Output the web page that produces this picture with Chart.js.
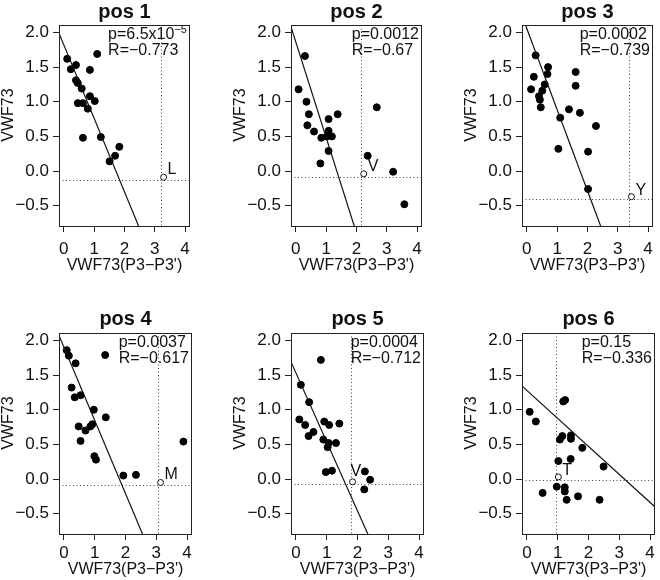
<!DOCTYPE html>
<html>
<head>
<meta charset="utf-8">
<script src="https://cdn.jsdelivr.net/npm/chart.js@4.4.1/dist/chart.umd.min.js"></script>
<style>
  html, body { margin: 0; padding: 0; background: #fff; width: 660px; height: 580px; overflow: hidden; }
  .panel { position: absolute; width: 197px; height: 290px; }
  canvas { display: block; }
</style>
</head>
<body>
<div class="panel" style="left:0px;top:0px"><canvas id="c0" width="197" height="290"></canvas></div>
<div class="panel" style="left:232px;top:0px"><canvas id="c1" width="197" height="290"></canvas></div>
<div class="panel" style="left:463px;top:0px"><canvas id="c2" width="197" height="290"></canvas></div>
<div class="panel" style="left:0px;top:308px"><canvas id="c3" width="197" height="290"></canvas></div>
<div class="panel" style="left:232px;top:308px"><canvas id="c4" width="197" height="290"></canvas></div>
<div class="panel" style="left:463px;top:308px"><canvas id="c5" width="197" height="290"></canvas></div>
<script>
// fonte tipo Arial, tudo a preto
Chart.defaults.font.family = "'Liberation Sans', Arial, sans-serif";
Chart.defaults.color = "#111";

// EIXOS
const xTicks = [0, 1, 2, 3, 4];
const yTicks = [-0.5, 0, 0.5, 1, 1.5, 2];
const xMin = -0.16, xMax = 4.16;
const yMin = -0.808, yMax = 2.108;

// TEXTOS
const titles = ["pos 1", "pos 2", "pos 3", "pos 4", "pos 5", "pos 6"];
const pTexts = ["p=6.5x10", "p=0.0012", "p=0.0002", "p=0.0037", "p=0.0004", "p=0.15"];
const pExps = ["−5", "", "", "", "", ""];
const rTexts = ["R=−0.773", "R=−0.67", "R=−0.739", "R=−0.617", "R=−0.712", "R=−0.336"];

// DADOS (pontos pretos)
const pos1X = [0.11, 1.10, 0.40, 0.23, 0.86, 0.40, 0.46, 0.59, 0.86, 1.02, 0.46, 0.63, 0.79, 0.63, 1.22, 1.83, 1.69, 1.51];
const pos1Y = [1.62, 1.69, 1.53, 1.47, 1.46, 1.31, 1.27, 1.19, 1.08, 1.01, 0.98, 0.98, 0.90, 0.48, 0.49, 0.35, 0.22, 0.14];

const pos2X = [0.30, 0.09, 0.35, 0.43, 0.38, 0.60, 0.84, 1.08, 1.08, 1.02, 1.19, 1.38, 1.08, 0.81, 2.67, 2.37, 3.21, 3.58];
const pos2Y = [1.66, 1.18, 1.00, 0.82, 0.66, 0.57, 0.48, 0.75, 0.58, 0.50, 0.50, 0.82, 0.29, 0.11, 0.92, 0.22, -0.01, -0.48];

const pos3X = [0.29, 0.70, 0.23, 0.68, 0.14, 0.59, 0.51, 0.40, 0.43, 0.46, 1.10, 1.61, 1.61, 1.39, 1.75, 2.28, 1.04, 2.02, 2.02];
const pos3Y = [1.67, 1.50, 1.36, 1.40, 1.18, 1.25, 1.16, 1.08, 1.03, 0.92, 0.77, 1.43, 1.23, 0.89, 0.84, 0.65, 0.32, 0.28, -0.26];

const pos4X = [0.09, 0.16, 0.38, 1.34, 0.25, 0.35, 0.54, 0.97, 1.36, 0.48, 0.70, 0.86, 0.92, 0.54, 0.99, 1.04, 1.93, 2.34, 3.88];
const pos4Y = [1.86, 1.78, 1.67, 1.79, 1.32, 1.18, 1.21, 1.00, 0.89, 0.76, 0.70, 0.76, 0.79, 0.55, 0.33, 0.28, 0.05, 0.06, 0.54];

const pos5X = [0.81, 0.16, 0.43, 0.11, 0.30, 0.41, 0.57, 0.92, 1.08, 1.41, 0.89, 1.06, 1.30, 1.03, 0.97, 1.17, 2.24, 2.41, 2.22];
const pos5Y = [1.72, 1.36, 1.11, 0.86, 0.78, 0.62, 0.68, 0.83, 0.78, 0.80, 0.57, 0.52, 0.52, 0.46, 0.10, 0.12, 0.11, -0.01, -0.15];

const pos6X = [0.09, 0.29, 1.18, 1.24, 1.07, 1.15, 1.43, 1.43, 1.80, 1.02, 1.42, 2.49, 0.97, 1.23, 1.23, 0.51, 1.29, 1.66, 2.36];
const pos6Y = [0.97, 0.83, 1.12, 1.14, 0.57, 0.62, 0.63, 0.58, 0.45, 0.26, 0.29, 0.18, -0.11, -0.12, -0.18, -0.20, -0.30, -0.25, -0.30];

// ponto aberto (variante) e linhas de referência
const openX = [3.29, 2.24, 3.45, 3.14, 1.84, 1.02];
const openY = [-0.09, -0.04, -0.37, -0.05, -0.04, 0.03];
const openLabels = ["L", "V", "Y", "M", "V", "T"];
const refX = [3.21, 2.16, 3.36, 3.06, 1.78, 0.94];
const refY = [-0.13, -0.09, -0.41, -0.08, -0.07, -0.02];

const fitX = [-0.5, 4.5];
const fit1Y = [2.35, -2.95];
const fit2Y = [2.55, -4.34];
const fit3Y = [2.64, -3.21];
const fit4Y = [2.43, -2.85];
const fit5Y = [2.03, -2.95];
const fit6Y = [1.48, -0.54];

const allX = [pos1X, pos2X, pos3X, pos4X, pos5X, pos6X];
const allY = [pos1Y, pos2Y, pos3Y, pos4Y, pos5Y, pos6Y];
const allFit = [fit1Y, fit2Y, fit3Y, fit4Y, fit5Y, fit6Y];

const FONT = "'Liberation Sans', Arial, sans-serif";
// deslocamento (px) da etiqueta do ponto aberto
const labelShift = [[4, -3], [4, -3], [4, -2], [4, -3], [-2, -6], [4, -2]];

function fmtY(v) {
  const s = Math.abs(v).toFixed(1);
  return v < 0 ? "−" + s : s;
}

// caixa, títulos, linhas pontilhadas e textos
const panelDecor = {
  id: "panelDecor",
  beforeDatasetsDraw(chart, args, opts) {
    const i = opts.i;
    const { ctx, chartArea: a, scales } = chart;
    const vx = scales.x.getPixelForValue(refX[i]);
    const hy = scales.y.getPixelForValue(refY[i]);
    ctx.save();
    ctx.strokeStyle = "#444";
    ctx.lineWidth = 1;
    ctx.setLineDash([1, 2.5]);
    ctx.beginPath();
    ctx.moveTo(Math.round(vx) + 0.5, a.top);
    ctx.lineTo(Math.round(vx) + 0.5, a.bottom);
    ctx.moveTo(a.left, Math.round(hy) + 0.5);
    ctx.lineTo(a.right, Math.round(hy) + 0.5);
    ctx.stroke();
    ctx.restore();
  },
  afterDraw(chart, args, opts) {
    const i = opts.i;
    const { ctx, chartArea: a, scales } = chart;
    ctx.save();
    // caixa
    ctx.strokeStyle = "#222";
    ctx.lineWidth = 1;
    ctx.strokeRect(Math.round(a.left) + 0.5, Math.round(a.top) + 0.5,
      Math.round(a.right - a.left) - 1, Math.round(a.bottom - a.top) - 1);
    ctx.fillStyle = "#111";

    // título
    ctx.font = "bold 20px " + FONT;
    ctx.textAlign = "center";
    ctx.textBaseline = "middle";
    ctx.fillText(titles[i], (a.left + a.right) / 2, i < 3 ? 12 : 11);

    // título do eixo y
    ctx.save();
    ctx.translate(9, (a.top + a.bottom) / 2 - 11);
    ctx.rotate(-Math.PI / 2);
    ctx.font = "16px " + FONT;
    ctx.fillText("VWF73", 0, 0);
    ctx.restore();

    // p e R
    ctx.font = "16px " + FONT;
    ctx.textAlign = "left";
    const pw = ctx.measureText(pTexts[i]).width;
    ctx.font = "11px " + FONT;
    const ew = pExps[i] ? ctx.measureText(pExps[i]).width : 0;
    ctx.font = "16px " + FONT;
    const rw = ctx.measureText(rTexts[i]).width;
    const x0 = a.right - Math.max(pw + ew, rw) - 3;
    ctx.fillText(pTexts[i], x0, a.top + 10);
    ctx.fillText(rTexts[i], x0, a.top + 26);
    if (pExps[i]) {
      ctx.font = "11px " + FONT;
      ctx.fillText(pExps[i], x0 + pw, a.top + 5);
    }

    // etiqueta do ponto aberto
    ctx.font = "16px " + FONT;
    ctx.textBaseline = "alphabetic";
    const ox = scales.x.getPixelForValue(openX[i]);
    const oy = scales.y.getPixelForValue(openY[i]);
    ctx.fillText(openLabels[i], ox + labelShift[i][0], oy + labelShift[i][1]);
    ctx.restore();
  },
};

function makePanel(i) {
  const pts = allX[i].map((x, k) => ({ x, y: allY[i][k] }));
  const fit = fitX.map((x, k) => ({ x, y: allFit[i][k] }));
  return new Chart(document.getElementById("c" + i), {
    type: "scatter",
    data: {
      datasets: [
        {
          data: pts,
          pointRadius: 3.5,
          pointBackgroundColor: "#000",
          pointBorderColor: "#000",
          pointBorderWidth: 1,
          order: 3,
        },
        {
          data: [{ x: openX[i], y: openY[i] }],
          pointRadius: 3,
          pointBackgroundColor: "#fff",
          pointBorderColor: "#111",
          pointBorderWidth: 1,
          order: 2,
        },
        {
          data: fit,
          showLine: true,
          pointRadius: 0,
          borderColor: "#111",
          borderWidth: 1.2,
          order: 1,
        },
      ],
    },
    options: {
      responsive: false,
      animation: false,
      events: [],
      layout: { padding: { top: 25, right: 4, left: 0, bottom: 0 } },
      plugins: {
        legend: { display: false },
        tooltip: { enabled: false },
        panelDecor: { i },
      },
      scales: {
        x: {
          type: "linear",
          min: xMin,
          max: xMax,
          afterBuildTicks: (s) => { s.ticks = xTicks.map((v) => ({ value: v })); },
          afterFit: (s) => { s.height = 63; },
          ticks: {
            font: { size: 17 },
            color: "#111",
            padding: i < 3 ? 7 : 3,
            maxRotation: 0,
            callback: (v) => String(v),
          },
          grid: { display: true, drawOnChartArea: false, drawTicks: true, tickLength: 5, tickColor: "#222" },
          border: { display: false },
          title: {
            display: true,
            text: "VWF73(P3−P3')",
            font: { size: 16 },
            color: "#111",
            padding: { top: 0, bottom: i < 3 ? 15 : 19 },
          },
        },
        y: {
          type: "linear",
          min: yMin,
          max: yMax,
          afterBuildTicks: (s) => { s.ticks = yTicks.map((v) => ({ value: v })); },
          afterFit: (s) => { s.width = 59; },
          ticks: {
            font: { size: 17 },
            color: "#111",
            padding: 4,
            callback: (v) => fmtY(v),
          },
          grid: { display: true, drawOnChartArea: false, drawTicks: true, tickLength: 6, tickColor: "#222" },
          border: { display: false },
        },
      },
    },
    plugins: [panelDecor],
  });
}

for (let i = 0; i < 6; i++) makePanel(i);
</script>
</body>
</html>
